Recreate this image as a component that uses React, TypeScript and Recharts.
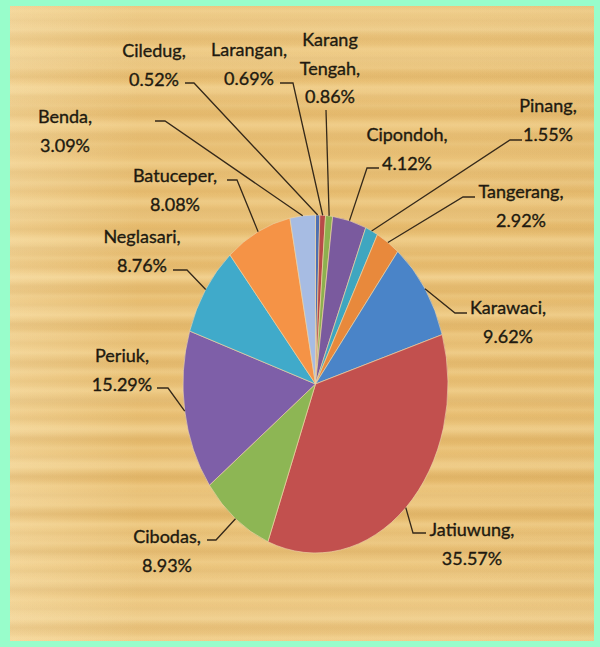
import { PieChart, Pie, Cell } from 'recharts';

// districts clockwise from 12 o'clock
const districts = [
  'Ciledug',
  'Larangan',
  'Karang Tengah',
  'Cipondoh',
  'Pinang',
  'Tangerang',
  'Karawaci',
  'Jatiuwung',
  'Cibodas',
  'Periuk',
  'Neglasari',
  'Batuceper',
  'Benda',
];
const shares = [0.52, 0.69, 0.86, 4.12, 1.55, 2.92, 9.62, 35.57, 8.93, 15.29, 8.76, 8.08, 3.09];
const sliceColors = [
  '#4f6fb0',
  '#b84a48',
  '#8db04f',
  '#7a5a9e',
  '#3fa6c0',
  '#e8893c',
  '#4a84c8',
  '#c2504e',
  '#8db654',
  '#7e5fa8',
  '#40aaca',
  '#f59346',
  '#a7bce3',
];

const data = districts.map((name, i) => ({ name, value: shares[i] }));

// label placement (text centre, first baseline, leader elbow, stub end x)
type LabelSpot = { tx: number; ty: number; elbow: [number, number]; stub: number };
const labelSpots: Record<string, LabelSpot> = {
  Ciledug: { tx: 154, ty: 57, elbow: [194, 83], stub: 185 },
  Larangan: { tx: 249, ty: 56, elbow: [293, 83], stub: 280 },
  'Karang Tengah': { tx: 330, ty: 46, elbow: [326, 110], stub: 326 },
  Cipondoh: { tx: 407, ty: 141, elbow: [367, 168], stub: 379 },
  Pinang: { tx: 548, ty: 112, elbow: [510, 140], stub: 522 },
  Tangerang: { tx: 521, ty: 198, elbow: [463, 197], stub: 475 },
  Karawaci: { tx: 508, ty: 314, elbow: [455, 313], stub: 467 },
  Jatiuwung: { tx: 472, ty: 536, elbow: [413, 533], stub: 426 },
  Cibodas: { tx: 167, ty: 543, elbow: [216, 540], stub: 207 },
  Periuk: { tx: 122, ty: 362, elbow: [168, 388], stub: 157 },
  Neglasari: { tx: 142, ty: 243, elbow: [187, 270], stub: 173 },
  Batuceper: { tx: 175, ty: 182, elbow: [237, 180], stub: 227 },
  Benda: { tx: 65, ty: 123, elbow: [165, 121], stub: 155 },
};

const W = 600;
const H = 647;
const CX = 315.5;
const CY = 384;
const RX = 132.5;
const STRETCH = 1.2755; // pie is drawn as a tall ellipse
const LINE_H = 28.5;
const INK = '#211a10';
const FONT = 'Lato, "Open Sans", sans-serif';

const RAD = Math.PI / 180;

const renderLabel = (props: any) => {
  const { cx, cy, midAngle, outerRadius, name, value } = props;
  const spot = labelSpots[name];
  if (!spot) return null;
  const ex = cx + outerRadius * Math.cos(-midAngle * RAD);
  const ey = cy + outerRadius * STRETCH * Math.sin(-midAngle * RAD);
  const words = String(name).split(' ');
  const lines = words.map((w, i) => (i === words.length - 1 ? `${w},` : w));
  lines.push(`${Number(value).toFixed(2)}%`);
  const [bx, by] = spot.elbow;
  return (
    <g key={`lbl-${name}`}>
      <path
        d={`M${ex},${ey}L${bx},${by}L${spot.stub},${by}`}
        fill="none"
        stroke="#35291a"
        strokeWidth={1.3}
      />
      <text
        x={spot.tx}
        y={spot.ty}
        textAnchor="middle"
        fill={INK}
        stroke={INK}
        strokeWidth={0.35}
        fontSize={18}
        fontFamily={FONT}
      >
        {lines.map((l, i) => (
          <tspan key={i} x={spot.tx} y={spot.ty + i * LINE_H}>
            {l}
          </tspan>
        ))}
      </text>
    </g>
  );
};

const wood = [
  'repeating-linear-gradient(180deg, rgba(255,234,180,0) 0px, rgba(255,234,180,0.22) 5px, rgba(255,234,180,0) 10px, rgba(175,125,50,0.07) 14px, rgba(175,125,50,0) 19px)',
  'repeating-linear-gradient(180deg, rgba(255,240,195,0) 0px, rgba(255,240,195,0.16) 13px, rgba(160,110,40,0.06) 27px, rgba(255,240,195,0) 37px)',
  'repeating-linear-gradient(180deg, rgba(200,150,70,0) 0px, rgba(200,150,70,0.06) 8px, rgba(200,150,70,0) 15px, rgba(255,240,200,0.1) 23px, rgba(255,240,200,0) 31px)',
  'linear-gradient(90deg, rgba(255,238,195,0.35), rgba(255,238,195,0) 22%, rgba(0,0,0,0) 78%, rgba(190,140,60,0.06))',
  'linear-gradient(180deg, rgba(255,238,195,0.2), rgba(255,238,195,0) 18%, rgba(0,0,0,0) 82%, rgba(255,235,190,0.25))',
].join(',');

export default function App() {
  return (
    <div
      style={{
        position: 'absolute',
        left: 0,
        top: 0,
        width: W,
        height: H,
        background: '#98fdcb',
        overflow: 'hidden',
      }}
    >
      <style>{`.ell-pie path.recharts-sector { transform-origin: ${CX}px ${CY}px; transform: scaleY(${STRETCH}); }`}</style>
      <div
        style={{
          position: 'absolute',
          left: 10,
          top: 6,
          width: 584,
          height: 635,
          backgroundColor: '#e8bd70',
          backgroundImage: wood,
        }}
      />
      <div style={{ position: 'absolute', left: 0, top: 0 }}>
        <PieChart width={W} height={H} margin={{ top: 0, right: 0, bottom: 0, left: 0 }}>
          <Pie
            className="ell-pie"
            data={data}
            dataKey="value"
            nameKey="name"
            cx={CX}
            cy={CY}
            innerRadius={0}
            outerRadius={RX}
            startAngle={90}
            endAngle={-270}
            stroke="#ecd3a6"
            strokeWidth={0.6}
            label={renderLabel}
            labelLine={false}
            isAnimationActive={false}
          >
            {data.map((d, i) => (
              <Cell key={d.name} fill={sliceColors[i]} />
            ))}
          </Pie>
        </PieChart>
      </div>
    </div>
  );
}
